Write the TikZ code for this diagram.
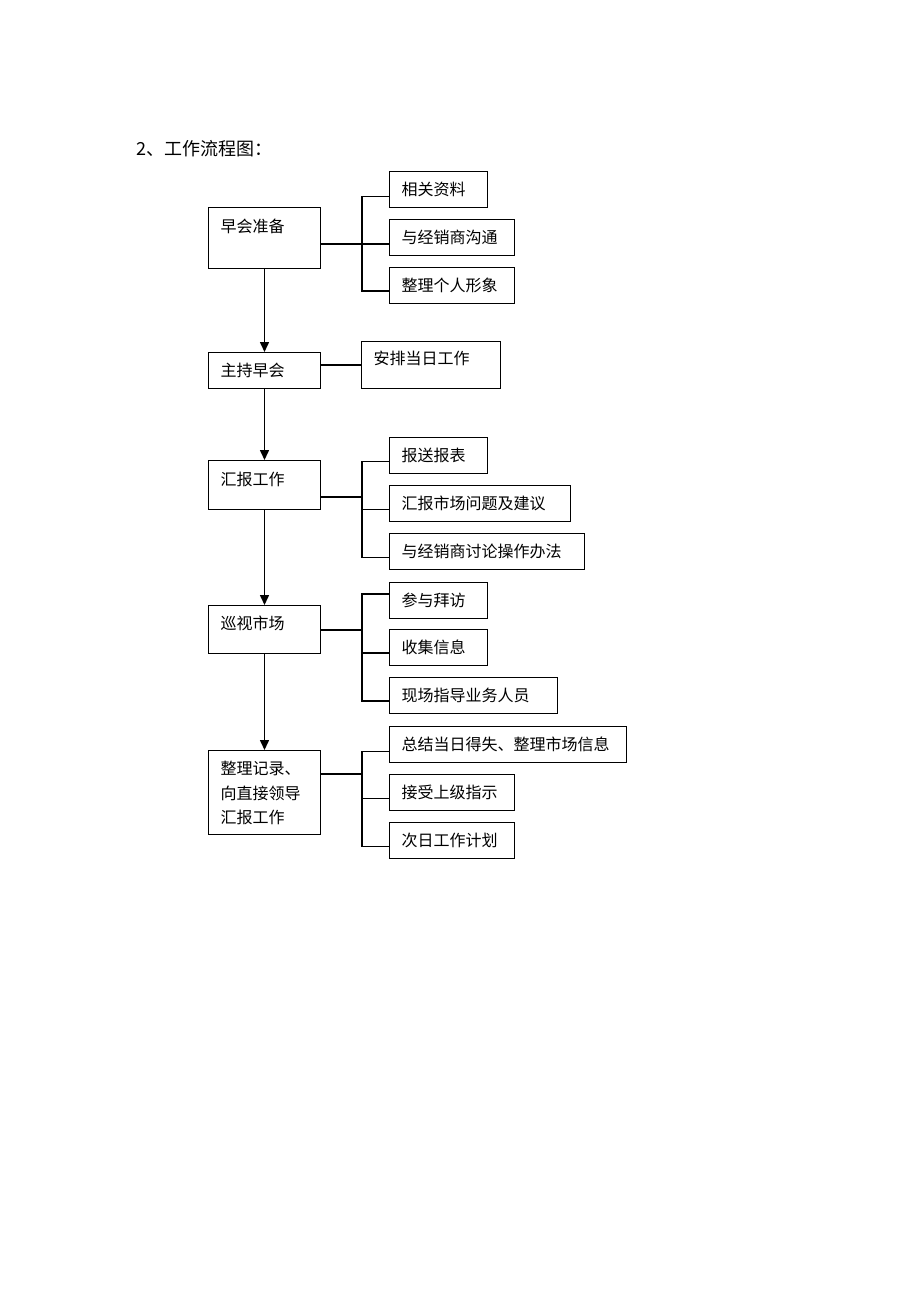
\documentclass[tikz,border=0pt]{standalone}
\usepackage{fontspec}
\newfontfamily\cjk{Noto Sans CJK SC}
\usetikzlibrary{arrows.meta}

\begin{document}
\begin{tikzpicture}[x=1pt,y=-1pt,>={Triangle[length=10pt,width=9pt]},
        every node/.style={font=\cjk\fontsize{16}{24.5}\selectfont},
        box/.style={draw,line width=1pt,anchor=north west,inner xsep=12pt,inner ysep=0pt,align=left},
        mainbox/.style={box,text width=88pt},
        sidebox/.style={box,text height=24pt,text depth=12pt},
        link/.style={line width=1.1pt}]

  \useasboundingbox (0,0) rectangle (920,1302);
  \node[anchor=base west,inner sep=0pt,font=\cjk\fontsize{18}{20}\selectfont] (title) at (136,155) {2、工作流程图：};

  % main steps
  \node[mainbox,text height=25pt,text depth=36pt] (zaohui) at (208,207) {早会准备};
  \node[mainbox,text height=24pt,text depth=12pt] (zhuchi) at (208,352) {主持早会};
  \node[mainbox,text height=25pt,text depth=24pt] (huibao) at (208,460) {汇报工作};
  \node[mainbox,text height=24pt,text depth=24pt] (xunshi) at (208,605) {巡视市场};
  \node[mainbox,text height=24pt,text depth=60pt] (zhengli) at (208,750) {整理记录、\\向直接领导\\汇报工作};

  % side boxes
  \node[sidebox,text width=74pt] (s11) at (389,171) {相关资料};
  \node[sidebox,text width=101pt] (s12) at (389,219) {与经销商沟通};
  \node[sidebox,text width=101pt] (s13) at (389,267) {整理个人形象};
  \node[box,text width=115pt,text height=23pt,text depth=24pt] (s21) at (361,341) {安排当日工作};
  \node[sidebox,text width=74pt] (s31) at (389,437) {报送报表};
  \node[sidebox,text width=157pt] (s32) at (389,485) {汇报市场问题及建议};
  \node[sidebox,text width=171pt] (s33) at (389,533) {与经销商讨论操作办法};
  \node[sidebox,text width=74pt] (s41) at (389,582) {参与拜访};
  \node[sidebox,text width=74pt] (s42) at (389,629) {收集信息};
  \node[sidebox,text width=144pt] (s43) at (389,677) {现场指导业务人员};
  \node[sidebox,text width=213pt] (s51) at (389,726) {总结当日得失、整理市场信息};
  \node[sidebox,text width=101pt] (s52) at (389,774) {接受上级指示};
  \node[sidebox,text width=101pt] (s53) at (389,822) {次日工作计划};

  % flow
  \draw[->,line width=1.5pt] (zaohui.south) -- (zhuchi.north);
  \draw[->,line width=1.5pt] (zhuchi.south) -- (huibao.north);
  \draw[->,line width=1.5pt] (huibao.south) -- (xunshi.north);
  \draw[->,line width=1.5pt] (xunshi.south) -- (zhengli.north);

  % branches
  \coordinate (trunk) at (362,0);
  \coordinate (b11) at ([yshift=-7pt]s11.west);
  \coordinate (b12) at ([yshift=-6.5pt]s12.west);
  \coordinate (b13) at ([yshift=-5.5pt]s13.west);
  \coordinate (b31) at ([yshift=-6pt]s31.west);
  \coordinate (b32) at ([yshift=-6pt]s32.west);
  \coordinate (b33) at ([yshift=-6pt]s33.west);
  \coordinate (b41) at ([yshift=6.5pt]s41.west);
  \coordinate (b42) at ([yshift=-5.5pt]s42.west);
  \coordinate (b43) at ([yshift=-5.5pt]s43.west);
  \coordinate (b51) at ([yshift=-7pt]s51.west);
  \coordinate (b52) at ([yshift=-6pt]s52.west);
  \coordinate (b53) at ([yshift=-6pt]s53.west);
  \coordinate (k3) at (362,497);
  \coordinate (k4) at (362,630);
  \coordinate (k5) at (362,774);

  \draw[link] (b11) -- (trunk |- b11) -- (trunk |- b13) -- (b13);
  \draw[link] (zaohui.east |- b12) -- (b12);
  \draw[link] (zhuchi.east |- s21.west) -- (s21.west);
  \draw[link] (b31) -- (trunk |- b31) -- (trunk |- b33) -- (b33);
  \draw[link] (trunk |- b32) -- (b32);
  \draw[link] (huibao.east |- k3) -- (k3);
  \draw[link] (b41) -- (trunk |- b41) -- (trunk |- b43) -- (b43);
  \draw[link] (trunk |- b42) -- (b42);
  \draw[link] (xunshi.east |- k4) -- (k4);
  \draw[link] (b51) -- (trunk |- b51) -- (trunk |- b53) -- (b53);
  \draw[link] (trunk |- b52) -- (b52);
  \draw[link] (zhengli.east |- k5) -- (k5);

\end{tikzpicture}
\end{document}
